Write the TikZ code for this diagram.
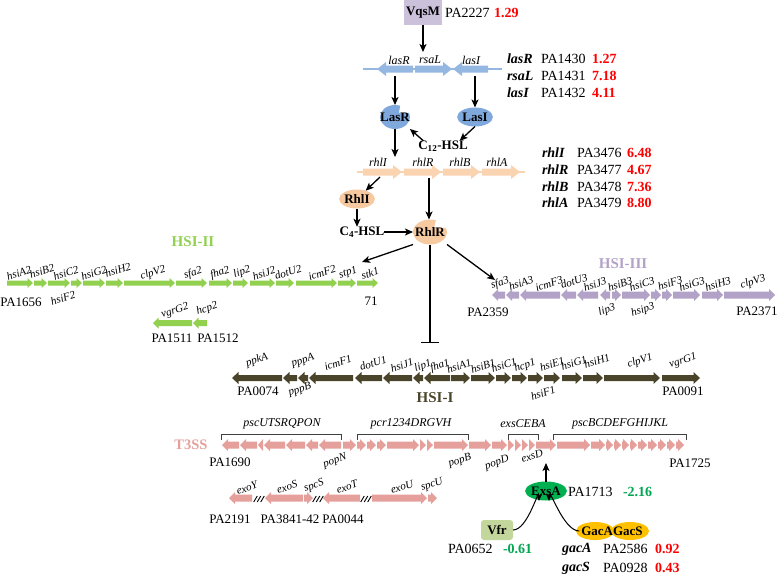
\documentclass[tikz,border=0pt]{standalone}
\usepackage{fontspec}
\setmainfont{Liberation Serif}
\usetikzlibrary{arrows.meta,shapes.geometric,calc}
\definecolor{lasc}{HTML}{95B8E3}
\definecolor{lasp}{HTML}{7FA8DC}
\definecolor{rhlc}{HTML}{FAD3B0}
\definecolor{rhlp}{HTML}{F7C9A0}
\definecolor{hsitwo}{HTML}{92D050}
\definecolor{hsithree}{HTML}{B3A2C7}
\definecolor{hsione}{HTML}{4A452A}
\definecolor{tss}{HTML}{E5A09B}
\definecolor{vqs}{HTML}{CCC1DA}
\definecolor{vfrc}{HTML}{C3D69B}
\definecolor{gacc}{HTML}{FFC000}
\definecolor{exsc}{HTML}{00B050}
\definecolor{upr}{HTML}{FF0000}
\definecolor{dnr}{HTML}{00A651}
\newcommand{\fgi}{\fontsize{12}{12}\selectfont\itshape}
\newcommand{\fhi}{\fontsize{11}{11}\selectfont\itshape}
\newcommand{\fpa}{\fontsize{13}{13}\selectfont}
\newcommand{\ftb}{\fontsize{14}{14}\selectfont}
\newcommand{\gR}[3]{\fill[\gcol] ({#1},{#3-\bh}) -- ({max(#1,#2-\hl)},{#3-\bh}) -- ({max(#1,#2-\hl)},{#3-\hh}) -- ({#2},{#3}) -- ({max(#1,#2-\hl)},{#3+\hh}) -- ({max(#1,#2-\hl)},{#3+\bh}) -- ({#1},{#3+\bh}) -- cycle;}
\newcommand{\gL}[3]{\fill[\gcol] ({#2},{#3-\bh}) -- ({min(#2,#1+\hl)},{#3-\bh}) -- ({min(#2,#1+\hl)},{#3-\hh}) -- ({#1},{#3}) -- ({min(#2,#1+\hl)},{#3+\hh}) -- ({min(#2,#1+\hl)},{#3+\bh}) -- ({#2},{#3+\bh}) -- cycle;}
\newcommand{\slashmark}[2]{\foreach \k in {-3.5,0,3.5}{\draw[line width=0.9pt] ({#1+\k-1.8},{#2+3}) -- ({#1+\k+1.8},{#2-3});}}
\begin{document}
\begin{tikzpicture}[x=1pt,y=-1pt,
  every node/.style={inner sep=0pt, outer sep=0pt},
  glab/.style={font=\fgi},
  rlab/.style={font=\fhi, rotate=18},
  palab/.style={font=\fpa},
  tabgene/.style={font=\ftb\bfseries\itshape, anchor=west},
  tabpa/.style={font=\ftb, anchor=west},
  upval/.style={font=\ftb\bfseries, text=upr, anchor=west},
  dnval/.style={font=\ftb\bfseries, text=dnr, anchor=west},
  reg/.style={line width=1.3pt, -{Stealth[length=8pt,width=7pt,inset=2pt]}},
  thinreg/.style={line width=1pt, -{Stealth[length=7pt,width=6pt,inset=1.5pt]}},
  prot/.style={font=\fontsize{13}{13}\selectfont\bfseries},
  ttl/.style={font=\fontsize{15}{15}\selectfont\bfseries},
  brk/.style={line width=0.8pt, draw=black!75},
]
\useasboundingbox (0,0) rectangle (778,576);

% ---------------- VqsM and las ----------------
\node[prot, fill=vqs, minimum width=38pt, minimum height=25pt] (vqsm) at (423,12.5) {VqsM};
\node[tabpa] (pa2227) at (445,13) {PA2227};
\node[upval] (v2227) at (494,13) {1.29};
\coordinate (lasop) at (423,52);
\draw[reg] (vqsm) -- (lasop);

\draw[lasc, line width=1.2pt] (363,69) -- (502,69);
\def\gcol{lasc}\def\bh{3.5}\def\hh{7}\def\hl{9}
\gL{377}{413}{69} \gR{415}{452}{69} \gL{453}{488}{69}
\node[glab] (l-lasR) at (399,60) {lasR};
\node[glab] (l-rsaL) at (430,60) {rsaL};
\node[glab] (l-lasI) at (471,60) {lasI};

\node[tabgene] (t-lasR) at (507,59) {lasR}; \node[tabpa] (p-lasR) at (541,59) {PA1430}; \node[upval] (v-lasR) at (592,59) {1.27};
\node[tabgene] (t-rsaL) at (507,76) {rsaL}; \node[tabpa] (p-rsaL) at (541,76) {PA1431}; \node[upval] (v-rsaL) at (592,76) {7.18};
\node[tabgene] (t-lasI) at (507,93) {lasI}; \node[tabpa] (p-lasI) at (541,93) {PA1432}; \node[upval] (v-lasI) at (592,93) {4.11};

\fill[lasp] (395,117) ++(-70:15 and 12) arc[start angle=-70,end angle=-380,x radius=15,y radius=12] -- (399,113) -- cycle;
\node[prot, minimum width=30pt, minimum height=24pt] (LasR) at (395,117) {LasR};
\node[prot, ellipse, fill=lasp, minimum width=32pt, minimum height=19pt] (LasI) at (475,117) {LasI};
\coordinate (g-lasR) at (395,76);
\coordinate (g-lasI) at (475,76);
\draw[reg] (g-lasR) -- (LasR);
\draw[reg] (g-lasI) -- (LasI);
\node[prot] (c12) at (443,146) {C\textsubscript{12}-HSL};
\draw[reg] (LasI.south) -- ([xshift=-8pt]c12.north east);
\draw[reg] ([xshift=5pt]c12.north west) -- (LasR.south east);
\coordinate (g-rhl1) at (395,157);
\draw[reg] (LasR) -- (g-rhl1);

% ---------------- rhl ----------------
\draw[rhlc, line width=1.2pt] (357,172) -- (525,172);
\def\gcol{rhlc}
\gR{363}{402}{172} \gR{404}{441}{172} \gR{443}{480}{172} \gR{482}{520}{172}
\node[glab] (l-rhlI) at (378,162) {rhlI};
\node[glab] (l-rhlR) at (423,162) {rhlR};
\node[glab] (l-rhlB) at (460,162) {rhlB};
\node[glab] (l-rhlA) at (497,162) {rhlA};

\node[tabgene] (t-rhlI) at (542,153) {rhlI}; \node[tabpa] (p-rhlI) at (577,153) {PA3476}; \node[upval] (v-rhlI) at (627,153) {6.48};
\node[tabgene] (t-rhlR) at (542,170) {rhlR}; \node[tabpa] (p-rhlR) at (577,170) {PA3477}; \node[upval] (v-rhlR) at (627,170) {4.67};
\node[tabgene] (t-rhlB) at (542,187) {rhlB}; \node[tabpa] (p-rhlB) at (577,187) {PA3478}; \node[upval] (v-rhlB) at (627,187) {7.36};
\node[tabgene] (t-rhlA) at (542,203) {rhlA}; \node[tabpa] (p-rhlA) at (577,203) {PA3479}; \node[upval] (v-rhlA) at (627,203) {8.80};

\node[prot, ellipse, fill=rhlp, minimum width=32pt, minimum height=19pt] (RhlI) at (357,199) {RhlI};
\coordinate (g-rhlI) at (380,177);
\draw[reg] (g-rhlI) -- (RhlI);
\node[prot] (c4) at (362,232) {C\textsubscript{4}-HSL};
\draw[reg] (RhlI.south) -- (RhlI.south |- c4.north);
\fill[rhlp] (430,232) ++(-70:17 and 12.5) arc[start angle=-70,end angle=-380,x radius=17,y radius=12.5] -- (434,228) -- cycle;
\node[prot, minimum width=34pt, minimum height=25pt] (RhlR) at (430,232) {RhlR};
\draw[reg] (c4) -- (RhlR);
\coordinate (g-rhlR) at (429,178);
\draw[reg] (g-rhlR) -- (g-rhlR |- RhlR.north);
\coordinate (hsi2tip) at (362,262);
\coordinate (hsi3tip) at (495,280);
\coordinate (hsi1bar) at (430,343);
\draw[reg] (RhlR.south west) -- (hsi2tip);
\draw[reg] (RhlR.south east) -- (hsi3tip);
\draw[line width=1.3pt, -{Bar[width=18pt,line width=1.5pt]}] (RhlR.south) -- (hsi1bar);

% ---------------- HSI-II ----------------
\node[ttl, text=hsitwo] (t-hsi2) at (193,242) {HSI-II};
\def\gcol{hsitwo}\def\bh{2.5}\def\hh{5}\def\hl{5.5}
\foreach \a/\b in {7/33,34/47,48/70,71/82,83/105,106/123,124/175,176/207,209/232,233/248,250/275,276/294,296/337,338/356,357/378}{\gR{\a}{\b}{283}}
\node[rlab] (l-hsiA2) at (19,273) {hsiA2};
\node[rlab] (l-hsiB2) at (42,271) {hsiB2};
\node[rlab] (l-hsiC2) at (66,273) {hsiC2};
\node[rlab] (l-hsiF2) at (63,298) {hsiF2};
\node[rlab] (l-hsiG2) at (94,273) {hsiG2};
\node[rlab] (l-hsiH2) at (118,270) {hsiH2};
\node[rlab] (l-clpV2) at (153,273) {clpV2};
\node[rlab] (l-sfa2) at (193,273) {sfa2};
\node[rlab] (l-fha2) at (220,273) {fha2};
\node[rlab] (l-lip2) at (242,272) {lip2};
\node[rlab] (l-hsiJ2) at (264,273) {hsiJ2};
\node[rlab] (l-dotU2) at (288,272) {dotU2};
\node[rlab] (l-icmF2) at (322,273) {icmF2};
\node[rlab] (l-stp1) at (348,273) {stp1};
\node[rlab] (l-stk1) at (370,273) {stk1};
\node[palab] (pa1656) at (21,302) {PA1656};
\node[palab] (pa71) at (371,301) {71};
\def\bh{3}\def\hh{5.5}
\gL{153}{192}{323} \gL{193}{207}{323}
\node[rlab] (l-vgrG2) at (175,311) {vgrG2};
\node[rlab] (l-hcp2) at (207,309) {hcp2};
\node[palab] (pa1511) at (172,338) {PA1511};
\node[palab] (pa1512) at (218,338) {PA1512};

% ---------------- HSI-III ----------------
\node[ttl, text=hsithree] (t-hsi3) at (623,264) {HSI-III};
\def\gcol{hsithree}\def\bh{3.5}\def\hh{6}\def\hl{6}
\foreach \a/\b in {492/505,506/519,520/560,561/576,577/598,600/610}{\gL{\a}{\b}{295}}
\foreach \a/\b in {612/621,622/650,651/661,662/672,673/700,702/723,724/775}{\gR{\a}{\b}{295}}
\node[rlab] (l-sfa3) at (500,283) {sfa3};
\node[rlab] (l-hsiA3) at (521,283) {hsiA3};
\node[rlab] (l-icmF3) at (549,284) {icmF3};
\node[rlab] (l-dotU3) at (574,281) {dotU3};
\node[rlab] (l-hsiJ3) at (595,284) {hsiJ3};
\node[rlab] (l-lip3) at (607,310) {lip3};
\node[rlab] (l-hsiB3) at (620,284) {hsiB3};
\node[rlab] (l-hsiC3) at (642,284) {hsiC3};
\node[rlab] (l-hsip3) at (643,310) {hsip3};
\node[rlab] (l-hsiF3) at (670,283) {hsiF3};
\node[rlab] (l-hsiG3) at (692,284) {hsiG3};
\node[rlab] (l-hsiH3) at (718,284) {hsiH3};
\node[rlab] (l-clpV3) at (753,282) {clpV3};
\node[palab] (pa2359) at (488,312) {PA2359};
\node[palab] (pa2371) at (757,311) {PA2371};

% ---------------- HSI-I ----------------
\def\gcol{hsione}\def\bh{3}\def\hh{6}\def\hl{6.5}
\foreach \a/\b in {232/282,283/297,298/308,309/353,355/382,383/412,413/423,424/450}{\gL{\a}{\b}{378}}
\foreach \a/\b in {451/470,471/495,496/511,512/527,528/543,544/560,562/582,583/603,604/660,662/700}{\gR{\a}{\b}{378}}
\node[rlab] (l-ppkA) at (257,360) {ppkA};
\node[rlab] (l-pppA) at (303,361) {pppA};
\node[rlab] (l-pppB) at (300,390) {pppB};
\node[rlab] (l-icmF1) at (338,363) {icmF1};
\node[rlab] (l-dotU1) at (373,363) {dotU1};
\node[rlab] (l-hsiJ1) at (402,365) {hsiJ1};
\node[rlab] (l-lip1) at (423,366) {lip1};
\node[rlab] (l-fha1) at (440,366) {fha1};
\node[rlab] (l-hsiA1) at (459,366) {hsiA1};
\node[rlab] (l-hsiB1) at (483,366) {hsiB1};
\node[rlab] (l-hsiC1) at (504,365) {hsiC1};
\node[rlab] (l-hcp1) at (525,366) {hcp1};
\node[rlab] (l-hsiE1) at (552,364) {hsiE1};
\node[rlab] (l-hsiF1) at (543,393) {hsiF1};
\node[rlab] (l-hsiG1) at (574,363) {hsiG1};
\node[rlab] (l-hsiH1) at (597,361) {hsiH1};
\node[rlab] (l-clpV1) at (640,361) {clpV1};
\node[rlab] (l-vgrG1) at (683,361) {vgrG1};
\node[palab] (pa0074) at (258,391) {PA0074};
\node[palab] (pa0091) at (683,391) {PA0091};
\node[ttl, text=hsione] (t-hsi1) at (435,398) {HSI-I};

% ---------------- T3SS ----------------
\node[ttl, text=tss, font=\fontsize{14.5}{15}\selectfont\bfseries] (t-t3ss) at (191,445) {T3SS};
\def\gcol{tss}\def\bh{3.5}\def\hh{6}\def\hl{6}
\foreach \a/\b in {222/239,240/257,258/263,264/285,286/305,306/318,319/341}{\gL{\a}{\b}{445}}
\foreach \a/\b in {343/356,357/366,367/376,377/386,387/419,420/426,427/433,434/468,469/491,492/507,508/514,515/521,522/528,529/535,536/556,557/590,591/605,606/613,614/621,622/629,630/637,638/647,648/657,658/666,667/675,676/684}{\gR{\a}{\b}{445}}
\draw[brk] (221,440) -- (221,434) -- (341,434) -- (341,440);
\draw[brk] (357,440) -- (357,434) -- (468,434) -- (468,440);
\draw[brk] (508,440) -- (508,434) -- (538,434) -- (538,440);
\draw[brk] (553,440) -- (553,434) -- (686,434) -- (686,440);
\node[glab] (b-psc1) at (282,424) {pscUTSRQPON};
\node[glab] (b-pcr) at (411,424) {pcr1234DRGVH};
\node[glab] (b-exs) at (523,424) {exsCEBA};
\node[glab] (b-psc2) at (620,424) {pscBCDEFGHIJKL};
\node[palab] (pa1690) at (230,462) {PA1690};
\node[rlab] (l-popN) at (335,461) {popN};
\node[rlab] (l-popB) at (460,461) {popB};
\node[rlab] (l-popD) at (497,463) {popD};
\node[rlab] (l-exsD) at (532,456) {exsD};
\node[palab] (pa1725) at (690,463) {PA1725};

\gL{229}{252}{498} \gL{265}{303}{498} \gR{304}{313}{498} \gL{323}{360}{498} \gR{372}{427}{498} \gR{428}{437}{498}
\slashmark{259}{499} \slashmark{318}{499} \slashmark{366}{499}
\node[rlab] (l-exoY) at (247,488) {exoY};
\node[rlab] (l-exoS) at (287,487) {exoS};
\node[rlab] (l-spcS) at (314,486) {spcS};
\node[rlab] (l-exoT) at (347,487) {exoT};
\node[rlab] (l-exoU) at (402,487) {exoU};
\node[rlab] (l-spcU) at (432,485) {spcU};
\node[palab] (pa2191) at (230,519) {PA2191};
\node[palab] (pa3841) at (290,519) {PA3841-42};
\node[palab] (pa0044) at (343,519) {PA0044};

% ---------------- ExsA, Vfr, GacA/GacS ----------------
\node[prot, ellipse, fill=exsc, minimum width=33pt, minimum height=19pt] (exsA) at (546,491) {ExsA};
\coordinate (g-exsD) at (546,463);
\draw[reg] (exsA) -- (g-exsD);
\node[tabpa] (pa1713) at (568,492) {PA1713};
\node[dnval] (v1713) at (623,492) {-2.16};

\node[prot, fill=vfrc, rounded corners=3pt, minimum width=32pt, minimum height=20pt] (vfr) at (497,530) {Vfr};
\node[tabpa] (pa0652) at (448,549) {PA0652};
\node[dnval] (v0652) at (503,549) {-0.61};
\fill[gacc] (595,531) ellipse [x radius=19, y radius=9];
\fill[gacc] (630,531) ellipse [x radius=19, y radius=9];
\node[prot] (gac) at (612,531) {GacAGacS};
\coordinate (exsin1) at (539,501);
\coordinate (exsin2) at (549,501);
\draw[thinreg] (vfr.east) to[out=0, in=90] (exsin1);
\draw[thinreg] ([xshift=-2pt]gac.west) to[out=180, in=90] (exsin2);
\node[tabgene] (t-gacA) at (562,549) {gacA}; \node[tabpa] (p-gacA) at (603,549) {PA2586}; \node[upval] (v-gacA) at (655,549) {0.92};
\node[tabgene] (t-gacS) at (562,568) {gacS}; \node[tabpa] (p-gacS) at (603,568) {PA0928}; \node[upval] (v-gacS) at (655,568) {0.43};
\end{tikzpicture}
\end{document}
